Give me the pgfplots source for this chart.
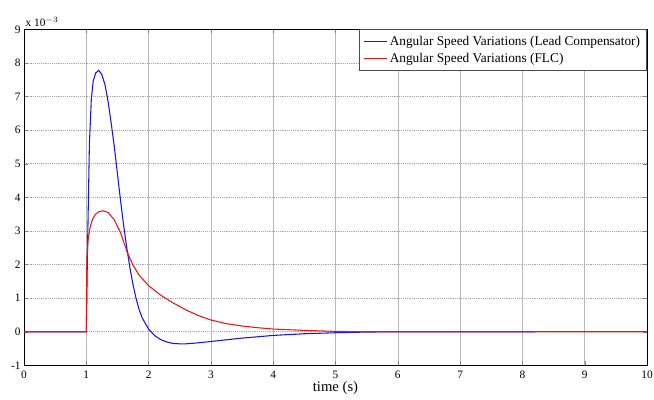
\documentclass[border=0pt]{standalone}
\usepackage{fontspec}
\setmainfont{Liberation Serif}
\usepackage{pgfplots}
\pgfplotsset{compat=1.18}
\definecolor{mblue}{RGB}{20,20,240}
\definecolor{mred}{RGB}{240,20,20}
\newcommand{\legfont}{\fontsize{10}{12}\selectfont}
\begin{document}
\begin{tikzpicture}
\begin{axis}[
  scale only axis,
  width=467.25pt, height=252pt,
  xmin=0, xmax=10, ymin=-1, ymax=9,
  xtick={0,1,...,10}, ytick={-1,0,...,9},
  tick align=inside, major tick length=3pt,
  tick label style={font=\fontsize{8.5}{9}\selectfont},
  /pgf/number format/assume math mode=true,
  xticklabel style={yshift=-1pt},
  yticklabel style={xshift=1pt},
  xlabel={time (s)},
  xlabel style={font=\fontsize{11}{12}\selectfont, yshift=5pt},
  xmajorgrids, ymajorgrids,
  x grid style={gray!55, line width=0.4pt},
  y grid style={gray!70, densely dotted, line width=0.5pt},
  axis line style={black, line width=0.5pt},
  legend style={at={(rel axis cs:1,1)}, anchor=north east, draw=gray!60!black,
    row sep=0pt, inner sep=3pt, fill=white},
  legend cell align=left,
  clip=true,
]
\addplot[mblue, line width=0.8pt,
  legend image code/.code={\color{mblue}\draw[mblue, line width=0.8pt] (0pt,0pt) -- (17pt,0pt);}] coordinates {
(0,0) (1,0) (1.02,2.5) (1.05,5.6) (1.08,6.9) (1.11,7.45) (1.15,7.7) (1.2,7.78)
(1.25,7.65) (1.3,7.35) (1.35,6.85) (1.4,6.2) (1.45,5.5) (1.5,4.7) (1.55,3.9)
(1.6,3.15) (1.65,2.5) (1.7,1.9) (1.75,1.4) (1.8,0.98) (1.85,0.65) (1.9,0.4)
(2.0,0.08) (2.1,-0.12) (2.2,-0.24) (2.3,-0.31) (2.4,-0.35) (2.5,-0.36) (2.6,-0.36)
(2.8,-0.33) (3.0,-0.29) (3.25,-0.24) (3.5,-0.19) (3.75,-0.15) (4.0,-0.11)
(4.5,-0.06) (5.0,-0.03) (5.5,-0.01) (6.0,0) (8.2,0)
};
\addlegendentry{\legfont Angular Speed Variations (Lead Compensator)}
\addplot[mred, line width=0.8pt,
  legend image code/.code={\color{mred}\draw[mred, line width=0.8pt] (0pt,0pt) -- (17pt,0pt);}] coordinates {
(0,0) (1,0) (1.005,1.5) (1.01,2.2) (1.03,2.75) (1.06,3.1) (1.1,3.35) (1.15,3.5)
(1.2,3.57) (1.27,3.6) (1.35,3.55) (1.45,3.33) (1.55,2.95) (1.65,2.4) (1.75,1.98)
(1.85,1.68) (2.0,1.37) (2.2,1.08) (2.4,0.85) (2.6,0.65) (2.8,0.48) (3.0,0.35)
(3.25,0.24) (3.5,0.17) (3.75,0.12) (4.0,0.08) (4.5,0.04) (5.0,0.01) (5.5,0) (10,0)
};
\addlegendentry{\legfont Angular Speed Variations (FLC)}
\coordinate (bl) at (rel axis cs:0,0);
\coordinate (tr) at (rel axis cs:1,1);
\end{axis}
\node[anchor=south west, font=\fontsize{8.5}{9}\selectfont, inner sep=1pt] at ([xshift=0pt,yshift=1pt]bl |- tr) {x 10$^{-3}$};
\pgfresetboundingbox
\path[use as bounding box] ([xshift=-18pt,yshift=-25.5pt]bl) rectangle ([xshift=5.25pt,yshift=22pt]tr);
\end{tikzpicture}
\end{document}
